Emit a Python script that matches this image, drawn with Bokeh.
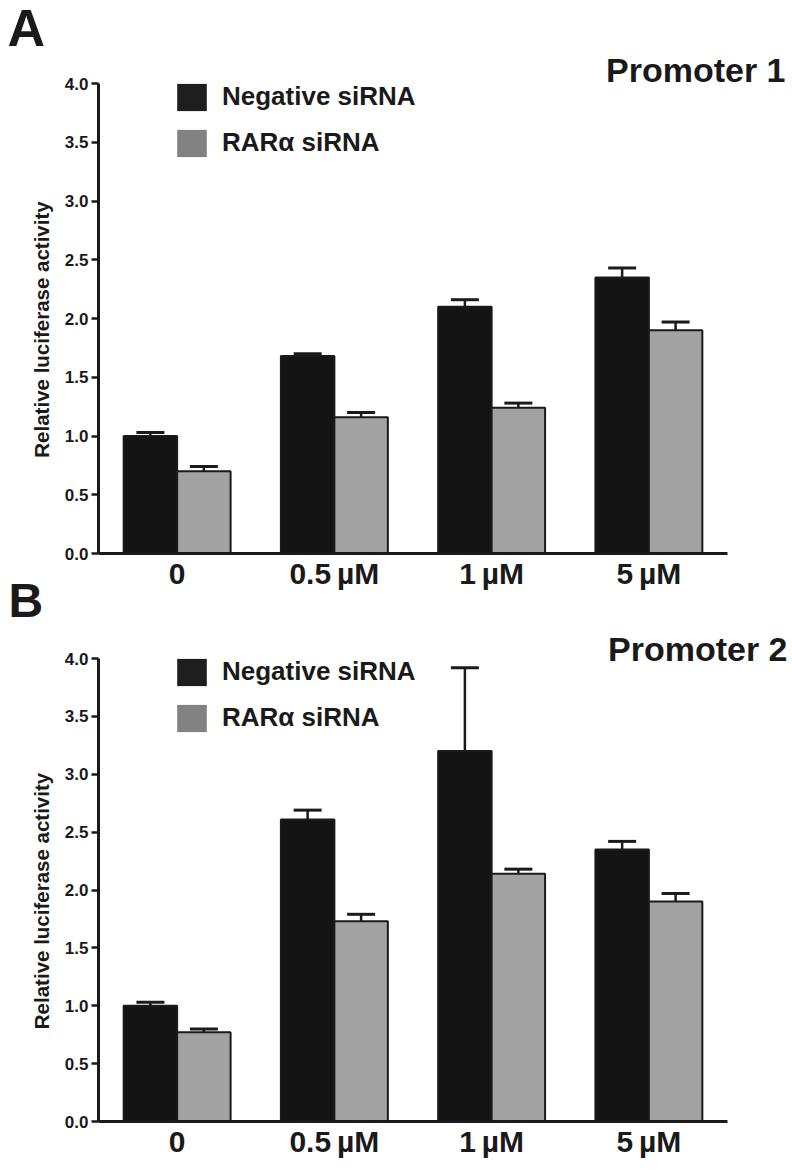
import math
from bokeh.plotting import figure
from bokeh.models import (Range1d, ColumnDataSource, Whisker, TeeHead, Legend, LegendItem,
                          Label, FixedTicker, PrintfTickFormatter)
from bokeh.transform import dodge
from bokeh.layouts import column
from bokeh.embed import file_html
from bokeh.resources import INLINE

# ---------------- data ----------------
categories = ["0", "0.5\u2009µM", "1\u2009µM", "5\u2009µM"]
series_labels = ["Negative siRNA", "RARα siRNA"]

neg_a = [1.00, 1.68, 2.10, 2.35]
neg_a_err = [0.03, 0.02, 0.06, 0.08]
rar_a = [0.70, 1.16, 1.24, 1.90]
rar_a_err = [0.04, 0.04, 0.04, 0.07]

neg_b = [1.00, 2.61, 3.20, 2.35]
neg_b_err = [0.03, 0.08, 0.72, 0.07]
rar_b = [0.77, 1.73, 2.14, 1.90]
rar_b_err = [0.03, 0.06, 0.04, 0.07]

panel_letters = ["A", "B"]
panel_titles = ["Promoter 1", "Promoter 2"]
y_ticks = [0.0, 0.5, 1.0, 1.5, 2.0, 2.5, 3.0, 3.5, 4.0]
y_title = "Relative luciferase activity"

# ---------------- styles / layout ----------------
FONT = "Liberation Sans"
INK = "#1a1a1a"
DARK = "#141414"
LIGHT = "#a2a2a2"
LEG_DARK = "#1e1e1e"
LEG_LIGHT = "#828282"
BAR_W = 0.34
OFF = 0.17
W = 790
AX_LEFT, AX_RIGHT = 98, 727          # pixel extent of the x axis
Y_MIN, Y_MAX = 0.0, 4.0
BASE_FIX = 0.39                      # empirical baseline correction (em)


def text_label(H, text, x, base, size, align="left"):
    return Label(x=x, y=H - base + BASE_FIX * size, x_units="screen", y_units="screen",
                 text=text, text_font=FONT, text_font_style="bold", text_align=align,
                 text_font_size=f"{size}px", text_color=INK, text_baseline="alphabetic")


def make_panel(neg, neg_err, rar, rar_err, title, H, px_y0, px_y4, title_right, title_base,
               letters):
    n = len(categories)
    xs = list(range(n))
    src = ColumnDataSource(dict(
        x=xs,
        neg=neg, neg_lo=[v - e for v, e in zip(neg, neg_err)], neg_hi=[v + e for v, e in zip(neg, neg_err)],
        rar=rar, rar_lo=[v - e for v, e in zip(rar, rar_err)], rar_hi=[v + e for v, e in zip(rar, rar_err)],
    ))
    x_lo, x_hi = -0.5, n - 0.5
    xpx = (AX_RIGHT - AX_LEFT) / (x_hi - x_lo)
    ypx = (px_y0 - px_y4) / (Y_MAX - Y_MIN)
    x_range = Range1d(x_lo - AX_LEFT / xpx, x_hi + (W - AX_RIGHT) / xpx)
    y_range = Range1d(Y_MIN - (H - px_y0) / ypx, Y_MAX + px_y4 / ypx)

    p = figure(width=W, height=H, x_range=x_range, y_range=y_range,
               output_backend="svg", toolbar_location=None, min_border=0)
    p.title.visible = False
    p.outline_line_color = None
    p.xgrid.visible = False
    p.ygrid.visible = False
    p.background_fill_color = "white"
    p.border_fill_color = "white"

    # legend swatch renderers (hidden behind the real bars)
    s1 = p.vbar(x=dodge("x", -OFF), top="neg", width=BAR_W, source=src,
                fill_color=LEG_DARK, line_color=None)
    s2 = p.vbar(x=dodge("x", OFF), top="rar", width=BAR_W, source=src,
                fill_color=LEG_LIGHT, line_color=None)
    p.vbar(x=dodge("x", -OFF), top="neg", width=BAR_W, source=src,
           fill_color=DARK, line_color=INK, line_width=2)
    p.vbar(x=dodge("x", OFF), top="rar", width=BAR_W, source=src,
           fill_color=LIGHT, line_color=INK, line_width=2)

    for base, lo, hi in [(-OFF, "neg_lo", "neg_hi"), (OFF, "rar_lo", "rar_hi")]:
        p.add_layout(Whisker(source=src, base=dodge("x", base), lower=lo, upper=hi,
                             dimension="height", line_color=INK, line_width=2.5,
                             upper_head=TeeHead(size=28, line_width=3, line_color=INK),
                             lower_head=TeeHead(size=28, line_width=3, line_color=INK)))

    glyph_h, spacing = 34, 12
    leg_h = 2 * glyph_h + spacing
    leg_top = px_y4 - 3.4
    leg = Legend(items=[LegendItem(label=series_labels[0], renderers=[s1]),
                        LegendItem(label=series_labels[1], renderers=[s2])],
                 location=(173, H - leg_top - leg_h), orientation="vertical",
                 glyph_width=37, glyph_height=glyph_h, label_standoff=12, spacing=spacing,
                 padding=0, margin=0, border_line_color=None, background_fill_alpha=0,
                 label_text_font=FONT, label_text_font_style="bold",
                 label_text_font_size="26px", label_text_color=INK)
    p.add_layout(leg)

    # y axis
    ya = p.yaxis[0]
    ya.fixed_location = x_lo
    ya.bounds = (Y_MIN, Y_MAX)
    ya.ticker = FixedTicker(ticks=y_ticks)
    ya.formatter = PrintfTickFormatter(format="%.1f")
    ya.axis_line_width = 3
    ya.axis_line_color = INK
    ya.major_tick_line_width = 2.5
    ya.major_tick_line_color = INK
    ya.major_tick_out = 7
    ya.major_tick_in = 0
    ya.minor_tick_line_color = None
    ya.major_label_standoff = 3
    ya.major_label_text_font = FONT
    ya.major_label_text_font_style = "bold"
    ya.major_label_text_font_size = "17px"
    ya.major_label_text_color = INK

    # x axis
    xa = p.xaxis[0]
    xa.fixed_location = Y_MIN
    xa.bounds = (x_lo, x_hi)
    xa.ticker = FixedTicker(ticks=xs)
    xa.major_label_overrides = {i: c for i, c in enumerate(categories)}
    xa.axis_line_width = 3
    xa.axis_line_color = INK
    xa.major_tick_line_color = None
    xa.major_tick_out = 0
    xa.major_tick_in = 0
    xa.minor_tick_line_color = None
    xa.major_label_standoff = 3
    xa.major_label_text_font = FONT
    xa.major_label_text_font_style = "bold"
    xa.major_label_text_font_size = "30px"
    xa.major_label_text_color = INK

    # y axis title (rotated)
    p.add_layout(Label(x=41, y=H - ((px_y0 + px_y4) / 2 + 11), x_units="screen", y_units="screen",
                       text=y_title, angle=math.pi / 2, text_align="center", text_baseline="middle",
                       text_font=FONT, text_font_style="bold", text_font_size="20.5px",
                       text_color=INK))

    p.add_layout(text_label(H, title, title_right, title_base, 34, align="right"))
    for (txt, lx, lbase, lsize) in letters:
        p.add_layout(text_label(H, txt, lx, lbase, lsize))
    return p


# panel A canvas: page y 0..630 ; panel B canvas: page y 630..1164
pa = make_panel(neg_a, neg_a_err, rar_a, rar_a_err, panel_titles[0],
                H=630, px_y0=553, px_y4=83, title_right=785, title_base=83,
                letters=[(panel_letters[0], 7, 48, 52), (panel_letters[1], 8, 619, 48)])
pb = make_panel(neg_b, neg_b_err, rar_b, rar_b_err, panel_titles[1],
                H=534, px_y0=491, px_y4=28, title_right=787, title_base=32,
                letters=[])

layout = column(pa, pb, spacing=0)
open("out.html", "w").write(file_html(layout, INLINE))
